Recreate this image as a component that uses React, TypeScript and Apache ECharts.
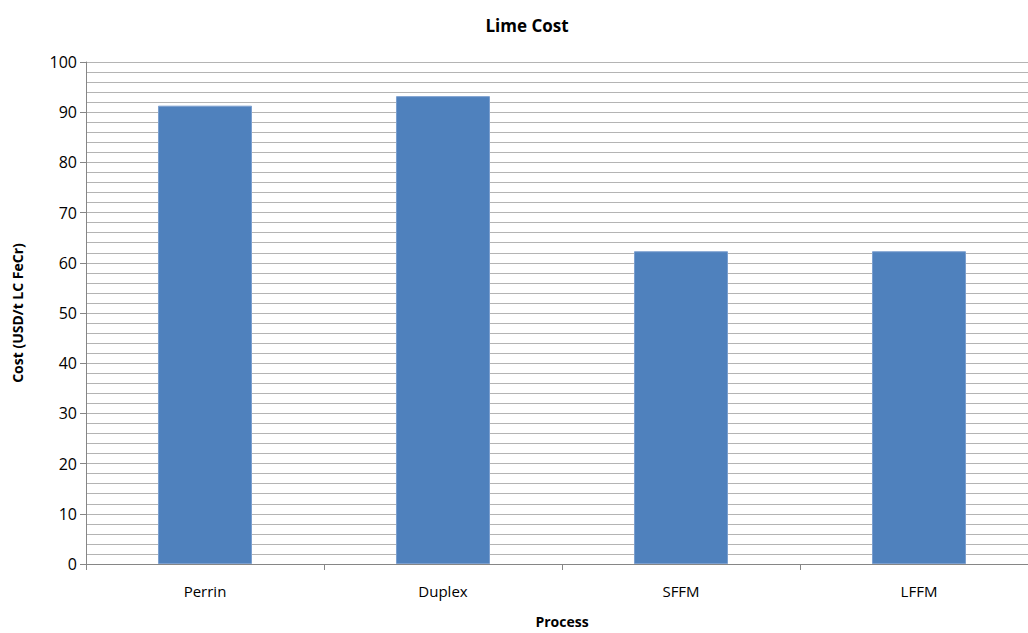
import React, { useEffect, useRef } from "react";
import * as echarts from "echarts";

const processes = ["Perrin", "Duplex", "SFFM", "LFFM"];
const limeCost = [91.3, 93.2, 62.3, 62.3];
const yTicks = { min: 0, max: 100, interval: 10 };

const FONT = "'Open Sans', 'Noto Sans', sans-serif";

export default function App() {
  const ref = useRef<HTMLDivElement>(null);

  useEffect(() => {
    if (!ref.current) return;
    const chart = echarts.init(ref.current, null, { renderer: "svg" });
    chart.setOption({
      animation: false,
      backgroundColor: "#ffffff",
      title: {
        text: "Lime Cost",
        left: 522,
        top: 12,
        textAlign: "center",
        textStyle: { fontFamily: FONT, fontSize: 17, fontWeight: "bold", color: "#000" },
      },
      grid: { left: 86, top: 62, right: 2, bottom: 67, containLabel: false },
      xAxis: {
        type: "category",
        data: processes,
        name: "Process",
        nameLocation: "middle",
        nameGap: 50,
        nameTextStyle: { fontFamily: FONT, fontSize: 14, fontWeight: "bold", color: "#000" },
        axisLine: { lineStyle: { color: "#868686", width: 1 } },
        axisTick: { show: true, alignWithLabel: false, length: 6, lineStyle: { color: "#868686" } },
        axisLabel: { fontFamily: FONT, fontSize: 15, color: "#000", margin: 19 },
        splitLine: { show: false },
      },
      yAxis: {
        type: "value",
        min: yTicks.min,
        max: yTicks.max,
        interval: yTicks.interval,
        name: "Cost (USD/t LC FeCr)",
        nameLocation: "middle",
        nameGap: 62,
        nameTextStyle: { fontFamily: FONT, fontSize: 14, fontWeight: "bold", color: "#000" },
        axisLine: { show: true, lineStyle: { color: "#868686", width: 1 } },
        axisTick: { show: true, length: 6, lineStyle: { color: "#868686" } },
        axisLabel: { fontFamily: FONT, fontSize: 16, color: "#000", margin: 9 },
        splitLine: { show: true, lineStyle: { color: "#b4b4b4", width: 1 } },
        minorTick: { show: false, splitNumber: 5 },
        minorSplitLine: { show: true, lineStyle: { color: "#b4b4b4", width: 1 } },
      },
      series: [
        {
          type: "bar",
          data: limeCost,
          barWidth: "39.5%",
          itemStyle: { color: "#4f81bd", borderColor: "#7b9fcf", borderWidth: 1 },
        },
      ],
    });
    return () => chart.dispose();
  }, []);

  return (
    <div
      ref={ref}
      style={{ position: "fixed", left: 0, top: 0, width: 1040, height: 633 }}
    />
  );
}
